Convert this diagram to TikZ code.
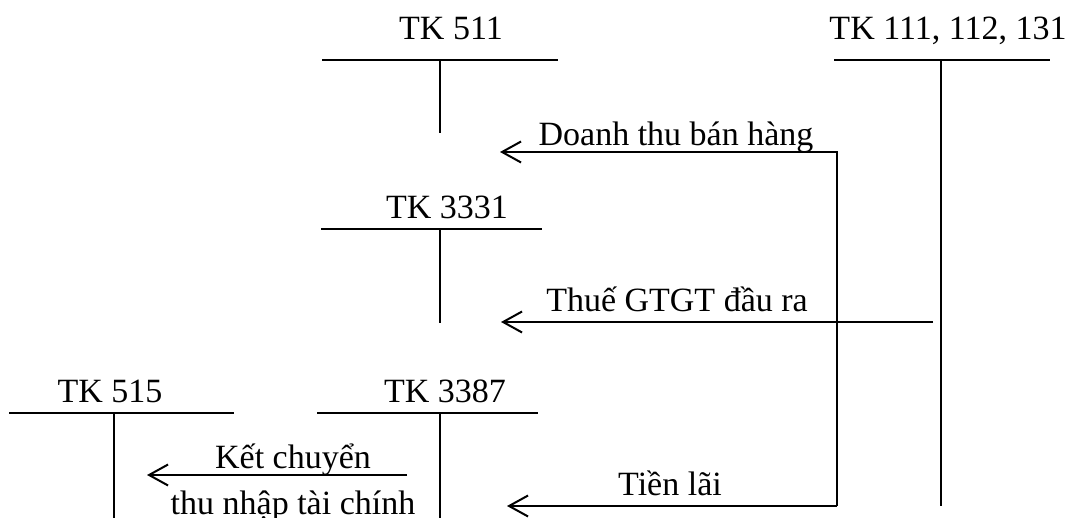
\documentclass[tikz,border=0pt]{standalone}
\usepackage{fontspec}
\setmainfont{Liberation Serif}
\usetikzlibrary{arrows.meta}
\begin{document}
\begin{tikzpicture}[x=1pt,y=-1pt,line width=2pt,
  txt/.style={font=\fontsize{34}{40}\selectfont,anchor=base,inner sep=0pt},
  flow/.style={-{Straight Barb[length=19pt,width=21pt]}}]
\useasboundingbox (0,0) rectangle (1074,518);

% T-account TK 511
\node[txt] (n511) at (451,40) {TK 511};
\coordinate (a511l) at (322,60);
\coordinate (a511r) at (558,60);
\coordinate (a511t) at (440,60);
\coordinate (a511b) at (440,133);
\draw (a511l) -- (a511r);
\draw (a511t) -- (a511b);

% T-account TK 111, 112, 131
\node[txt] (n111) at (948,40) {TK 111, 112, 131};
\coordinate (a111l) at (834,60);
\coordinate (a111r) at (1050,60);
\coordinate (a111t) at (941,60);
\coordinate (a111b) at (941,506);
\draw (a111l) -- (a111r);
\draw (a111t) -- (a111b);

% T-account TK 3331
\node[txt] (n3331) at (447,219) {TK 3331};
\coordinate (a3331l) at (321,229);
\coordinate (a3331r) at (542,229);
\coordinate (a3331t) at (440,229);
\coordinate (a3331b) at (440,323);
\draw (a3331l) -- (a3331r);
\draw (a3331t) -- (a3331b);

% T-account TK 515
\node[txt] (n515) at (110,403) {TK 515};
\coordinate (a515l) at (9,413);
\coordinate (a515r) at (234,413);
\coordinate (a515t) at (114,413);
\coordinate (a515b) at (114,520);
\draw (a515l) -- (a515r);
\draw (a515t) -- (a515b);

% T-account TK 3387
\node[txt] (n3387) at (445,403) {TK 3387};
\coordinate (a3387l) at (317,413);
\coordinate (a3387r) at (538,413);
\coordinate (a3387t) at (440,413);
\coordinate (a3387b) at (440,520);
\draw (a3387l) -- (a3387r);
\draw (a3387t) -- (a3387b);

% Flows out of TK 111, 112, 131
\coordinate (jtop) at (837,152);
\coordinate (jbot) at (837,506);
\coordinate (tipDT) at (500,152);
\coordinate (tipTL) at (507,506);
\draw[flow] (jbot) -- (jtop) -- (tipDT);
\draw[flow] (jbot) -- (tipTL);
\node[txt] (lDT) at (676,146) {Doanh thu bán hàng};
\node[txt] (lTL) at (670,495) {Tiền lãi};

\coordinate (srcVAT) at (933,322);
\coordinate (tipVAT) at (501,322);
\draw[flow] (srcVAT) -- (tipVAT);
\node[txt] (lVAT) at (677,312) {Thuế GTGT đầu ra};

% Transfer TK 3387 -> TK 515
\coordinate (srcKC) at (407,475);
\coordinate (tipKC) at (147,475);
\draw[flow] (srcKC) -- (tipKC);
\node[txt] (lKC1) at (293,468) {Kết chuyển};
\node[txt] (lKC2) at (293,514) {thu nhập tài chính};
\end{tikzpicture}
\end{document}
